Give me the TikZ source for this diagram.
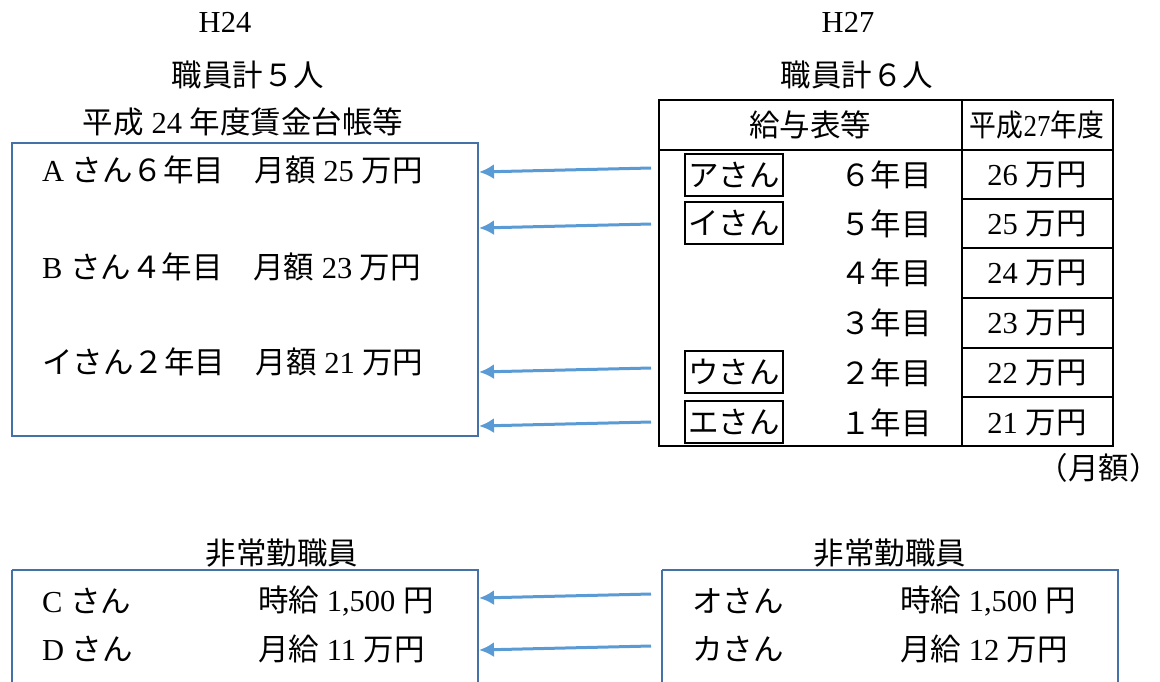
\documentclass[tikz,border=0pt]{standalone}
\usepackage{fontspec}
\setmainfont{Noto Sans CJK JP}
\newfontfamily\latfont{Liberation Serif}
\newcommand\lat[1]{{\latfont #1}}
\usetikzlibrary{arrows.meta}
\definecolor{boxblue}{HTML}{4472A6}
\definecolor{arrowblue}{HTML}{5B9BD5}
\begin{document}
\begin{tikzpicture}[x=1pt,y=-1pt,
  every node/.style={font=\fontsize{30.5}{34}\selectfont, inner sep=0pt},
  txt/.style={anchor=west},
  namebox/.style={draw=black, line width=2.3pt, minimum width=98pt, minimum height=42pt, inner sep=0pt},
  conn/.style={draw=arrowblue, line width=3pt, -{Latex[length=15pt,width=15pt]}},
  bluebox/.style={draw=boxblue, line width=2.3pt},
  gridline/.style={draw=black, line width=2.3pt}]
\useasboundingbox (0,0) rectangle (1160,681);

% ---------- left top ----------
\node (h24) at (225,22) {\lat{H24}};
\node (k5) at (248,75) {職員計５人};
\node (chin) at (243,122) {平成\lat{ 24 }年度賃金台帳等};
\draw[bluebox] (12,143) rectangle (478,436);
\node[txt] (A) at (42,170) {\lat{A }さん６年目　月額\lat{ 25 }万円};
\node[txt] (B) at (42,267) {\lat{B }さん４年目　月額\lat{ 23 }万円};
\node[txt] (I2) at (42,362) {イさん２年目　月額\lat{ 21 }万円};

% ---------- right top ----------
\node (h27) at (848,22) {\lat{H27}};
\node (k6) at (857,75) {職員計６人};
\draw[gridline] (659,100) rectangle (1113,446);
\draw[gridline] (962,100) -- (962,446);
\draw[gridline] (659,150) -- (1113,150);
\foreach \yy in {199,248,298,348,397}{\draw[gridline] (962,\yy) -- (1113,\yy);}
\node (kyuyo) at (810,125) {給与表等};
\node (h27y) at (1037,125) {\scalebox{0.88}[1]{平成\lat{27}年度}};

\node[namebox] (a) at (734,175) {アさん};
\node[namebox] (i) at (734,223) {イさん};
\node[namebox] (u) at (734,372) {ウさん};
\node[namebox] (e) at (734,422) {エさん};

\node (y6) at (886,175) {６年目};
\node (y5) at (886,224) {５年目};
\node (y4) at (886,273) {４年目};
\node (y3) at (886,323) {３年目};
\node (y2) at (886,373) {２年目};
\node (y1) at (886,423) {１年目};

\node (v26) at (1037,175) {\lat{26 }万円};
\node (v25) at (1037,224) {\lat{25 }万円};
\node (v24) at (1037,273) {\lat{24 }万円};
\node (v23) at (1037,323) {\lat{23 }万円};
\node (v22) at (1037,373) {\lat{22 }万円};
\node (v21) at (1037,423) {\lat{21 }万円};

\node[anchor=east] (getsugaku) at (1160,468) {（月額）};

% ---------- bottom ----------
\node (hj1) at (282,553) {非常勤職員};
\node (hj2) at (890,553) {非常勤職員};
\draw[bluebox] (12,570) -- (478,570) -- (478,700) (12,570) -- (12,700);
\draw[bluebox] (662,570) -- (1118,570) -- (1118,700) (662,570) -- (662,700);
\node[txt] (C) at (42,601) {\lat{C }さん};
\node[txt] (Cw) at (258,601) {時給\lat{ 1,500 }円};
\node[txt] (D) at (42,649) {\lat{D }さん};
\node[txt] (Dw) at (258,649) {月給\lat{ 11 }万円};
\node[txt] (O) at (692,601) {オさん};
\node[txt] (Ow) at (900,601) {時給\lat{ 1,500 }円};
\node[txt] (K) at (692,649) {カさん};
\node[txt] (Kw) at (900,649) {月給\lat{ 12 }万円};

% ---------- connectors ----------
\coordinate (s1) at (651,168); \coordinate (t1) at (479,172);
\coordinate (s2) at (651,224); \coordinate (t2) at (479,228);
\coordinate (s3) at (651,368); \coordinate (t3) at (479,372);
\coordinate (s4) at (651,422); \coordinate (t4) at (479,426);
\coordinate (s5) at (651,594); \coordinate (t5) at (479,598);
\coordinate (s6) at (651,646); \coordinate (t6) at (479,650);
\foreach \k in {1,...,6}{\draw[conn] (s\k) -- (t\k);}
\end{tikzpicture}
\end{document}
